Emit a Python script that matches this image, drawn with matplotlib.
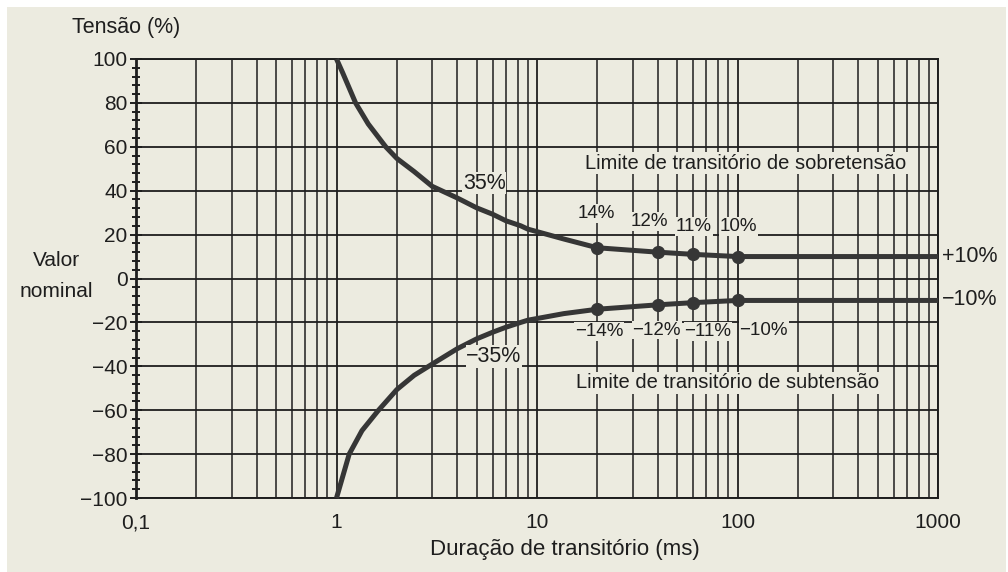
from matplotlib import pyplot as plt
from matplotlib import ticker as tick
from matplotlib.patches import Rectangle
import numpy as np

# duration (ms) vs. allowed voltage deviation (%)
upper_ms = [1, 1.075, 1.245, 1.44, 1.76, 2, 2.44, 3, 4, 5, 6, 7, 8.3, 9, 13.6, 20, 40, 60, 100, 1000]
upper_pct = [100, 93.6, 80, 70.4, 60, 54.7, 48.7, 42, 36.7, 32.2, 29.3, 26.3, 24, 22.5, 18, 14, 12, 11, 10, 10]
lower_ms = [1, 1.157, 1.34, 1.61, 2, 2.44, 3, 4, 5, 6, 7, 8.3, 9, 13.6, 20, 40, 60, 100, 1000]
lower_pct = [-100, -80, -69.3, -60.3, -50.6, -44.1, -39, -32, -27.5, -24.5, -22.2, -20, -19, -16, -14, -12, -11, -10, -10]

# marked points along each limit
point_ms = [20, 40, 60, 100]
upper_points = [14, 12, 11, 10]
lower_points = [-14, -12, -11, -10]

x_ticks = [0.1, 1, 10, 100, 1000]
x_tick_labels = ['0,1', '1', '10', '100', '1000']
y_ticks = [-100, -80, -60, -40, -20, 0, 20, 40, 60, 80, 100]

PAPER = '#ecebe0'
INK = '#1e1e1e'
CURVE = '#363636'

plt.rcParams['font.family'] = ['Liberation Sans', 'DejaVu Sans']

fig = plt.figure(figsize=(10.08, 5.72), dpi=100)
fig.patch.set_facecolor('white')
fig.patches.append(Rectangle((7 / 1008, 0), 1 - 9 / 1008, 1 - 7 / 572,
                             transform=fig.transFigure, facecolor=PAPER,
                             edgecolor='none', zorder=-10))

ax = fig.add_axes([136 / 1008, 74 / 572, 802 / 1008, 439 / 572])
ax.set_facecolor(PAPER)
ax.set_xscale('log')
ax.set_xlim(0.1, 1000)
ax.set_ylim(-100, 100)

# log grid: decades plus 2..9 in between, horizontal every 20 %
ax.xaxis.set_major_locator(tick.FixedLocator(x_ticks))
ax.xaxis.set_major_formatter(tick.FixedFormatter(x_tick_labels))
ax.xaxis.set_minor_locator(tick.LogLocator(base=10, subs=np.arange(2, 10)))
ax.xaxis.set_minor_formatter(tick.NullFormatter())
ax.set_yticks(y_ticks)
ax.yaxis.set_minor_locator(tick.MultipleLocator(4))
ax.yaxis.set_major_formatter(tick.FuncFormatter(lambda v, _: f'{v:.0f}'.replace('-', '\u2212')))

ax.grid(which='major', axis='both', color=INK, lw=1.3)
ax.grid(which='minor', axis='x', color=INK, lw=1.1)
ax.set_axisbelow(True)

ax.tick_params(axis='x', which='both', length=0, pad=11, labelsize=15, colors=INK)
ax.tick_params(axis='y', which='major', direction='inout', length=8, width=1.4,
               pad=2, labelsize=15, colors=INK)
ax.tick_params(axis='y', which='minor', direction='inout', length=6, width=1.4, colors=INK)

for side in ['left', 'right', 'top', 'bottom']:
    ax.spines[side].set_color(INK)
    ax.spines[side].set_linewidth(1.4)
ax.spines['left'].set_linewidth(2)

ax.plot(upper_ms, upper_pct, color=CURVE, lw=3.6, solid_joinstyle='round',
        solid_capstyle='butt', clip_on=False, zorder=3)
ax.plot(lower_ms, lower_pct, color=CURVE, lw=3.6, solid_joinstyle='round',
        solid_capstyle='butt', clip_on=False, zorder=3)
ax.plot(point_ms, upper_points, 'o', color=CURVE, ms=8.5, zorder=4)
ax.plot(point_ms, lower_points, 'o', color=CURVE, ms=8.5, zorder=4)

# value labels above/below the marked points
upper_label_ms = [19.7, 36.2, 60.6, 100.6]
upper_label_y = [29.7, 25.9, 23.6, 23.6]
lower_label_ms = [20.4, 39.5, 71.3, 135]
lower_label_y = [-24.2, -23.5, -24.2, -23.5]
for x, y, v in zip(upper_label_ms, upper_label_y, upper_points):
    ax.text(x, y, f'{v}%', ha='center', va='center', fontsize=13.5, color=INK,
            bbox=dict(facecolor=PAPER, edgecolor='none', pad=0.5))
for x, y, v in zip(lower_label_ms, lower_label_y, lower_points):
    ax.text(x, y, f'\u2212{-v}%', ha='center', va='center', fontsize=13.5, color=INK,
            bbox=dict(facecolor=PAPER, edgecolor='none', pad=0.5))

ax.text(5.45, 43.5, '35%', ha='center', va='center', fontsize=15.5, color=INK,
        bbox=dict(facecolor=PAPER, edgecolor='none', pad=0.5))
ax.text(6.1, -35.6, '\u221235%', ha='center', va='center', fontsize=15.5, color=INK,
        bbox=dict(facecolor=PAPER, edgecolor='none', pad=0.5))

ax.text(110, 52.5, 'Limite de transitório de sobretensão', ha='center', va='center',
        fontsize=14.5, color=INK, bbox=dict(facecolor=PAPER, edgecolor='none', pad=1))
ax.text(89, -47.6, 'Limite de transitório de subtensão', ha='center', va='center',
        fontsize=14.5, color=INK, bbox=dict(facecolor=PAPER, edgecolor='none', pad=1))

ax.annotate('+10%', (1000, upper_pct[-1]), xytext=(3, 0), textcoords='offset points',
            ha='left', va='center', fontsize=15.5, color=INK, annotation_clip=False)
ax.annotate('\u221210%', (1000, lower_pct[-1]), xytext=(3, 1), textcoords='offset points',
            ha='left', va='center', fontsize=15.5, color=INK, annotation_clip=False)

fig.text(72 / 1008, 1 - 28 / 572, 'Tensão (%)', ha='left', va='center', fontsize=15.5, color=INK)
fig.text(56 / 1008, 1 - 276 / 572, 'Valor\nnominal', ha='center', va='center',
         fontsize=15, color=INK, linespacing=1.75)
fig.text(565 / 1008, 1 - 550 / 572, 'Duração de transitório (ms)', ha='center', va='center',
         fontsize=16, color=INK)

plt.savefig('out.png', dpi=100, facecolor=fig.get_facecolor())
